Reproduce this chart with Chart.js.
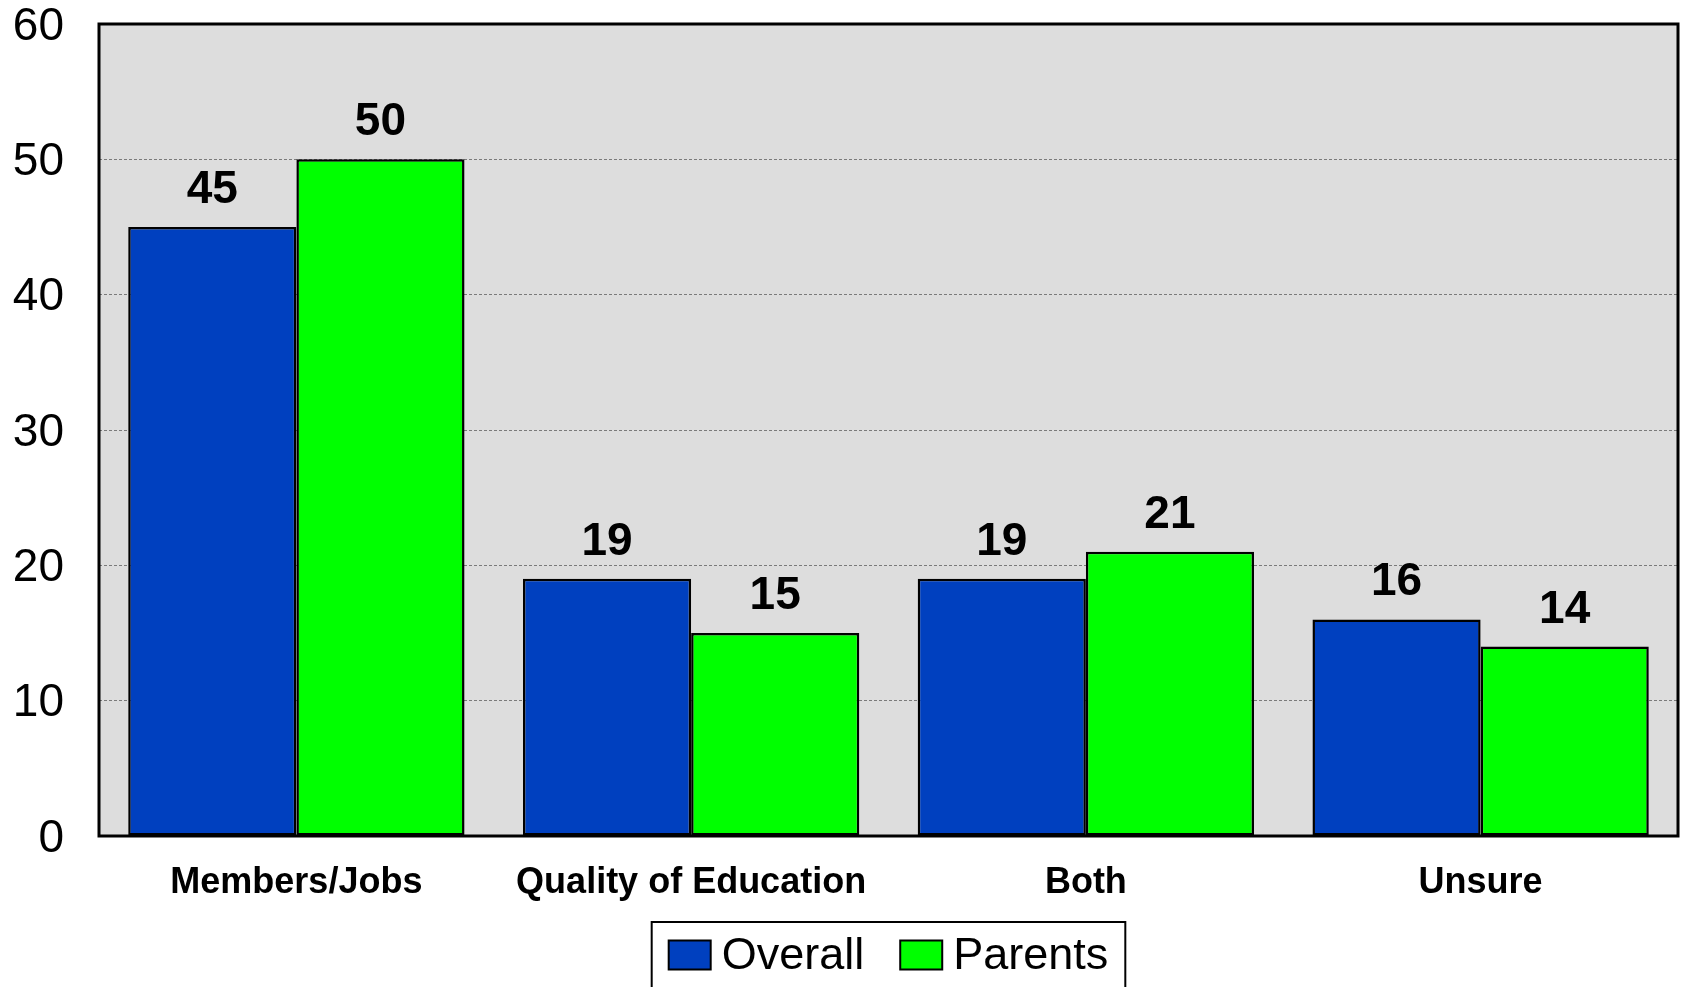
<!DOCTYPE html>
<html>
<head>
<meta charset="utf-8">
<script src="https://cdn.jsdelivr.net/npm/chart.js@4.4.1/dist/chart.umd.min.js"></script>
<style>
  html, body { margin: 0; padding: 0; background: #fff; overflow: hidden; }
</style>
</head>
<body>
<canvas id="myChart" width="1684" height="987"></canvas>
<script>
var categories = ['Members/Jobs', 'Quality of Education', 'Both', 'Unsure'];
var overall = [45, 19, 19, 16];
var parents = [50, 15, 21, 14];
var yTicks = [0, 10, 20, 30, 40, 50, 60];
var seriesNames = ['Overall', 'Parents'];
var seriesColors = ['#0040BF', '#00FF00'];

var FONT = "'Liberation Sans', Arial, sans-serif";

// gray plot box, black frame, value labels and the boxed legend
var plotBox = {
  id: 'plotBox',
  beforeDraw: function(chart) {
    var a = chart.chartArea, c = chart.ctx;
    c.save();
    c.fillStyle = '#DDDDDD';
    c.fillRect(a.left, a.top, a.right - a.left, a.bottom - a.top);
    c.restore();
  },
  afterDatasetsDraw: function(chart) {
    var a = chart.chartArea, c = chart.ctx;
    c.save();
    c.strokeStyle = '#000';
    c.lineWidth = 3;
    c.strokeRect(a.left, a.top, a.right - a.left, a.bottom - a.top);

    c.fillStyle = '#000';
    c.font = 'bold 46px ' + FONT;
    c.textAlign = 'center';
    c.textBaseline = 'alphabetic';
    chart.data.datasets.forEach(function(ds, i) {
      chart.getDatasetMeta(i).data.forEach(function(bar, j) {
        c.fillText(String(ds.data[j]), bar.x, bar.y - 24);
      });
    });
    c.restore();
  },
  afterDraw: function(chart) {
    var a = chart.chartArea, c = chart.ctx;
    c.save();
    c.font = '45px ' + FONT;
    var sw = 42, sh = 29, gap = 11, itemGap = 36, pad = 17;
    var widths = seriesNames.map(function(n) { return c.measureText(n).width; });
    var total = 0;
    widths.forEach(function(w, i) { total += sw + gap + w + (i ? itemGap : 0); });
    var boxW = total + pad * 2;
    var cx = (a.left + a.right) / 2;
    var left = cx - boxW / 2, top = 922, cy = 955;
    c.strokeStyle = '#000';
    c.lineWidth = 2;
    c.strokeRect(left, top, boxW, 120);
    var x = left + pad;
    c.textBaseline = 'middle';
    c.textAlign = 'left';
    seriesNames.forEach(function(n, i) {
      c.fillStyle = seriesColors[i];
      c.fillRect(x, cy - sh / 2, sw, sh);
      c.lineWidth = 2;
      c.strokeStyle = '#000';
      c.strokeRect(x, cy - sh / 2, sw, sh);
      c.fillStyle = '#000';
      c.fillText(n, x + sw + gap, cy + 2);
      x += sw + gap + widths[i] + itemGap;
    });
    c.restore();
  }
};

var ctx = document.getElementById('myChart').getContext('2d');
var chart = new Chart(ctx, {
  type: 'bar',
  data: {
    labels: categories,
    datasets: [{
      label: seriesNames[0],
      data: overall,
      backgroundColor: seriesColors[0],
      borderColor: '#000',
      borderWidth: 2.5,
      borderSkipped: false
    }, {
      label: seriesNames[1],
      data: parents,
      backgroundColor: seriesColors[1],
      borderColor: '#000',
      borderWidth: 2.5,
      borderSkipped: false
    }]
  },
  options: {
    responsive: false,
    animation: false,
    devicePixelRatio: 1,
    layout: { padding: { top: 24, right: 6, left: 0, bottom: 65 } },
    plugins: {
      legend: { display: false },
      tooltip: { enabled: false }
    },
    datasets: {
      bar: { categoryPercentage: 0.852, barPercentage: 1.0 }
    },
    scales: {
      x: {
        grid: { display: false, drawTicks: false },
        border: { display: false },
        ticks: {
          color: '#000',
          padding: 25,
          maxRotation: 0,
          font: { family: FONT, size: 36, weight: 'bold', lineHeight: 1.2 }
        },
        afterFit: function(s) { s.height = 86; s.paddingLeft = 0; s.paddingRight = 0; }
      },
      y: {
        min: 0,
        max: 60,
        afterBuildTicks: function(s) { s.ticks = yTicks.map(function(v) { return { value: v }; }); },
        grid: {
          drawTicks: false,
          lineWidth: 1,
          color: function(c) {
            var v = c.tick && c.tick.value;
            return (v === 0 || v === 60) ? 'rgba(0,0,0,0)' : '#7A7A7A';
          }
        },
        border: { display: false, dash: [3, 2] },
        ticks: {
          color: '#000',
          padding: 35,
          labelOffset: 3,
          font: { family: FONT, size: 46, lineHeight: 1 }
        },
        afterFit: function(s) { s.width = 99; s.paddingTop = 0; s.paddingBottom = 0; }
      }
    }
  },
  plugins: [plotBox]
});
</script>
</body>
</html>
